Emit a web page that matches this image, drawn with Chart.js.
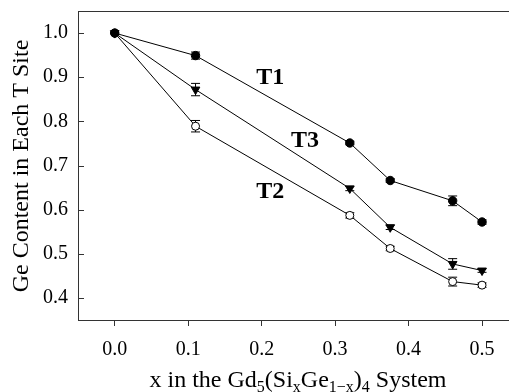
<!DOCTYPE html>
<html>
<head>
<meta charset="utf-8">
<script src="https://cdn.jsdelivr.net/npm/chart.js@4"></script>
<style>
html,body{margin:0;padding:0;background:#fff;}
#wrap{width:509px;height:392px;}
</style>
</head>
<body>
<div id="wrap"><canvas id="c" width="509" height="392"></canvas></div>
<script>
// ---- data ----
const xValues = [0, 0.11, 0.32, 0.375, 0.46, 0.5];
const t1Values = [1.0, 0.949, 0.751, 0.666, 0.620, 0.572];
const t3Values = [1.0, 0.872, 0.648, 0.560, 0.477, 0.462];
const t2Values = [1.0, 0.789, 0.587, 0.512, 0.437, 0.429];
const t1Errors = [0, 0.008, 0.004, 0.004, 0.011, 0.005];
const t3Errors = [0, 0.014, 0.005, 0.005, 0.012, 0.004];
const t2Errors = [0, 0.013, 0.006, 0.005, 0.010, 0.005];
const xTicks = [0.0, 0.1, 0.2, 0.3, 0.4, 0.5];
const yTicks = [0.4, 0.5, 0.6, 0.7, 0.8, 0.9, 1.0];
const seriesLabels = ['T1', 'T3', 'T2'];
const labelPositions = [[0.2116, 0.899], [0.259, 0.757], [0.2116, 0.640]];

const SERIF = '"Liberation Serif", "Times New Roman", serif';
const AXIS_COLOR = '#333';

function pts(vals){ return xValues.map((x,i)=>({x:x, y:vals[i]})); }
function zeroPad(s){ s.paddingTop = 0; s.paddingBottom = 0; s.paddingLeft = 0; s.paddingRight = 0; }

const errorBarPlugin = {
  id: 'errorBars',
  beforeDatasetsDraw(chart){
    const ctx = chart.ctx, xs = chart.scales.x, ys = chart.scales.y;
    const errs = [t1Errors, t3Errors, t2Errors];
    const vals = [t1Values, t3Values, t2Values];
    ctx.save();
    ctx.strokeStyle = '#000';
    ctx.lineWidth = 1;
    errs.forEach((e, s) => {
      xValues.forEach((x, i) => {
        if (!e[i]) return;
        const px = xs.getPixelForValue(x);
        const top = ys.getPixelForValue(vals[s][i] + e[i]);
        const bot = ys.getPixelForValue(vals[s][i] - e[i]);
        ctx.beginPath();
        ctx.moveTo(px, top); ctx.lineTo(px, bot);
        ctx.moveTo(px - 4.5, top); ctx.lineTo(px + 4.5, top);
        ctx.moveTo(px - 4.5, bot); ctx.lineTo(px + 4.5, bot);
        ctx.stroke();
      });
    });
    ctx.restore();
  }
};

const decorPlugin = {
  id: 'decor',
  afterDraw(chart){
    const ctx = chart.ctx, xs = chart.scales.x, ys = chart.scales.y;
    const ca = chart.chartArea;
    ctx.save();
    // top frame line
    ctx.strokeStyle = AXIS_COLOR;
    ctx.lineWidth = 1;
    ctx.beginPath();
    ctx.moveTo(ca.left, Math.round(ca.top) + 0.5);
    ctx.lineTo(chart.width, Math.round(ca.top) + 0.5);
    ctx.stroke();
    // inward y ticks
    ctx.beginPath();
    yTicks.forEach(v => {
      const py = Math.round(ys.getPixelForValue(v)) + 0.5;
      ctx.moveTo(ca.left, py); ctx.lineTo(ca.left + 6, py);
    });
    ctx.stroke();
    // series labels
    ctx.fillStyle = '#000';
    ctx.font = 'bold 24px ' + SERIF;
    ctx.textAlign = 'center';
    ctx.textBaseline = 'middle';
    seriesLabels.forEach((t, i) => {
      ctx.fillText(t, xs.getPixelForValue(labelPositions[i][0]), ys.getPixelForValue(labelPositions[i][1]));
    });
    // y title
    ctx.save();
    ctx.translate(22, 166);
    ctx.rotate(-Math.PI / 2);
    ctx.font = '24px ' + SERIF;
    ctx.textAlign = 'center';
    ctx.textBaseline = 'middle';
    ctx.fillText('Ge Content in Each T Site', 0, 0);
    ctx.restore();
    // x title with subscripts
    const parts = [
      ['x in the Gd', false], ['5', true], ['(Si', false], ['x', true],
      ['Ge', false], ['1\u2212x', true], [')', false], ['4', true], [' System', false]
    ];
    const mainFont = '24px ' + SERIF, subFont = '16px ' + SERIF;
    let total = 0;
    parts.forEach(p => { ctx.font = p[1] ? subFont : mainFont; total += ctx.measureText(p[0]).width; });
    let x = 298 - total / 2;
    const base = 387;
    ctx.textAlign = 'left';
    ctx.textBaseline = 'alphabetic';
    parts.forEach(p => {
      ctx.font = p[1] ? subFont : mainFont;
      ctx.fillText(p[0], x, p[1] ? base + 5 : base);
      x += ctx.measureText(p[0]).width;
    });
    ctx.restore();
  }
};

new Chart(document.getElementById('c'), {
  type: 'line',
  data: {
    datasets: [
      { label: 'T1', data: pts(t1Values), borderColor: '#000', borderWidth: 1,
        pointStyle: 'circle', pointRadius: 4.2, pointBackgroundColor: '#000', pointBorderColor: '#000', pointBorderWidth: 1 },
      { label: 'T3', data: pts(t3Values), borderColor: '#000', borderWidth: 1,
        pointStyle: 'triangle', pointRotation: 180, pointRadius: 5, pointBackgroundColor: '#000', pointBorderColor: '#000', pointBorderWidth: 1 },
      { label: 'T2', data: pts(t2Values), borderColor: '#000', borderWidth: 1,
        pointStyle: 'circle', pointRadius: 4, pointBackgroundColor: '#fff', pointBorderColor: '#000', pointBorderWidth: 1 }
    ]
  },
  options: {
    responsive: false,
    animation: false,
    events: [],
    layout: { autoPadding: false, padding: { top: 11, right: 0, left: 0, bottom: 0 } },
    plugins: { legend: { display: false }, tooltip: { enabled: false } },
    scales: {
      x: {
        type: 'linear', min: -0.05, max: 0.5367,
        afterBuildTicks(s){ s.ticks = xTicks.map(v => ({ value: v })); },
        afterFit(s){ s.height = 72; zeroPad(s); },
        grid: { drawOnChartArea: false, drawTicks: true, tickLength: 6, color: AXIS_COLOR },
        border: { display: true, color: AXIS_COLOR, width: 1 },
        ticks: { font: { family: SERIF, size: 20 }, color: '#000', padding: 12,
                 maxRotation: 0, callback: v => Number(v).toFixed(1) }
      },
      y: {
        type: 'linear', min: 0.35, max: 1.05,
        afterBuildTicks(s){ s.ticks = yTicks.map(v => ({ value: v })); },
        afterFit(s){ s.width = 78; zeroPad(s); },
        grid: { drawOnChartArea: false, drawTicks: false, color: AXIS_COLOR },
        border: { display: true, color: AXIS_COLOR, width: 1 },
        ticks: { font: { family: SERIF, size: 20 }, color: '#000', padding: 10,
                 callback: v => Number(v).toFixed(1) }
      }
    }
  },
  plugins: [errorBarPlugin, decorPlugin]
});
</script>
</body>
</html>
